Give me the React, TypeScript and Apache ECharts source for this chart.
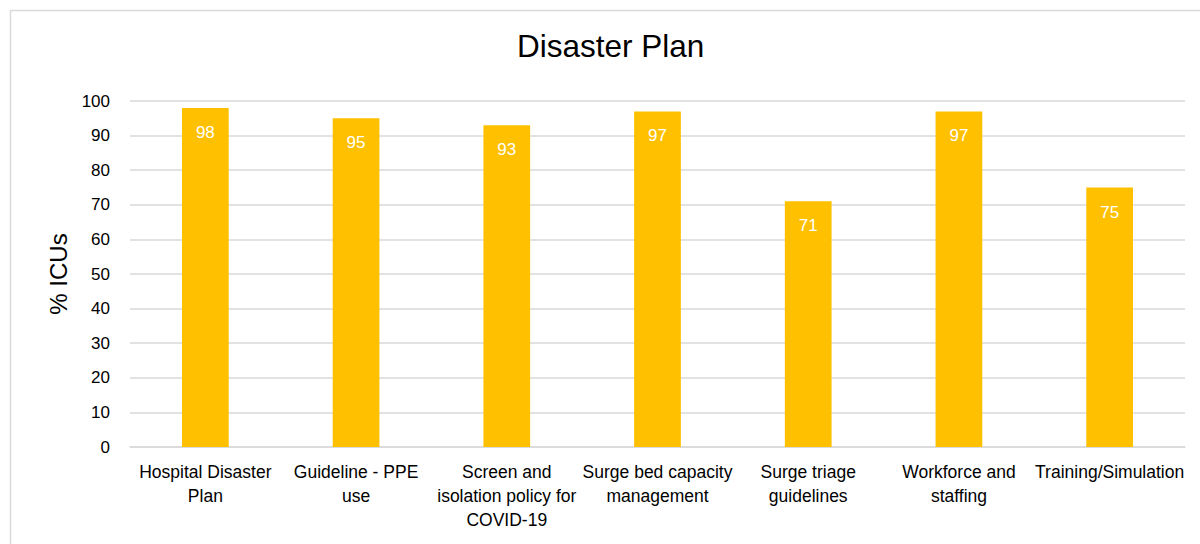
import React, { useEffect, useRef } from "react";
import * as echarts from "echarts";

const titleText = "Disaster Plan";
const yAxisName = "% ICUs";
const categories = [
  "Hospital Disaster Plan",
  "Guideline - PPE use",
  "Screen and isolation policy for COVID-19",
  "Surge bed capacity management",
  "Surge triage guidelines",
  "Workforce and staffing",
  "Training/Simulation",
];
const tickLabels = [
  "Hospital Disaster\nPlan",
  "Guideline - PPE\nuse",
  "Screen and\nisolation policy for\nCOVID-19",
  "Surge bed capacity\nmanagement",
  "Surge triage\nguidelines",
  "Workforce and\nstaffing",
  "Training/Simulation",
];
const values = [98, 95, 93, 97, 71, 97, 75];

const FONT = "'Liberation Sans', Arial, sans-serif";

export default function App() {
  const ref = useRef<HTMLDivElement>(null);
  useEffect(() => {
    if (!ref.current) return;
    const chart = echarts.init(ref.current, null, { renderer: "svg" });
    chart.setOption({
      animation: false,
      backgroundColor: "#ffffff",
      textStyle: { fontFamily: FONT },
      title: {
        text: titleText,
        left: 517,
        top: 30,
        padding: 0,
        textStyle: { fontFamily: FONT, fontSize: 31.5, fontWeight: "normal", color: "#000000" },
      },
      graphic: [
        {
          type: "rect",
          shape: { x: 10.5, y: 10.5, width: 1210, height: 560 },
          style: { fill: "none", stroke: "#d9d9d9", lineWidth: 1.5 },
          silent: true,
        },
      ],
      grid: { left: 130, right: 15, top: 101, bottom: 97, containLabel: false },
      xAxis: {
        type: "category",
        data: categories,
        axisLine: { show: true, lineStyle: { color: "#d9d9d9", width: 1.5 } },
        axisTick: { show: false },
        axisLabel: {
          interval: 0,
          margin: 13,
          fontFamily: FONT,
          fontSize: 17.5,
          lineHeight: 24,
          color: "#000000",
          formatter: (_v: string, i: number) => tickLabels[i],
        },
      },
      yAxis: {
        type: "value",
        min: 0,
        max: 100,
        interval: 10,
        name: yAxisName,
        nameLocation: "middle",
        nameGap: 58,
        nameRotate: 90,
        nameTextStyle: { fontFamily: FONT, fontSize: 24, color: "#000000" },
        axisLine: { show: false },
        axisTick: { show: false },
        axisLabel: { margin: 20, fontFamily: FONT, fontSize: 17, color: "#000000" },
        splitLine: { lineStyle: { color: "#d9d9d9", width: 1.5 } },
      },
      series: [
        {
          type: "bar",
          data: values,
          barWidth: "31%",
          itemStyle: { color: "#FFC000" },
          label: {
            show: true,
            position: "insideTop",
            distance: 16,
            fontFamily: FONT,
            fontSize: 17,
            color: "#ffffff",
          },
        },
      ],
    });
    return () => chart.dispose();
  }, []);
  return (
    <div
      ref={ref}
      style={{ position: "fixed", left: 0, top: 0, width: 1200, height: 544 }}
    />
  );
}
